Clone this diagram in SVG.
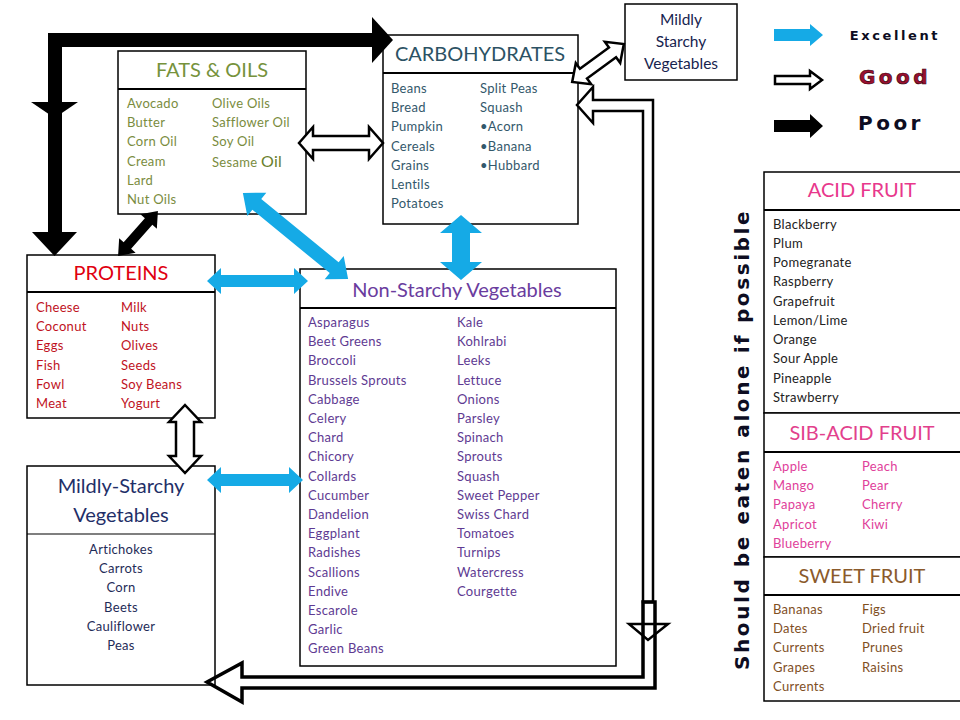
<svg xmlns="http://www.w3.org/2000/svg" width="960" height="720" viewBox="0 0 960 720">
<style>
text{font-family:Lato,"Open Sans","Liberation Sans",sans-serif}
.box{fill:#fff;stroke:#000;stroke-width:1.5}
.div{stroke:#000;stroke-width:2}
.divt{stroke:#000;stroke-width:1.2}
.t{font-size:20px;text-anchor:middle}
.i{font-size:13px;letter-spacing:0.3px}
.c{text-anchor:middle}
.cy{fill:#15aae6}
.ho{fill:#fff;stroke:#000;stroke-width:2.5;stroke-linejoin:miter}
.bk{fill:#000}
.lg{font-family:"DejaVu Sans","Liberation Sans",sans-serif;font-weight:bold}
</style>
<rect width="960" height="720" fill="#fff"/>

<g id="fats">
  <rect class="box" x="118" y="51" width="188" height="163"/>
  <line class="div" x1="118" y1="89" x2="306" y2="89"/>
  <text class="t" x="212" y="77" fill="#76923c">FATS &amp; OILS</text>
  <g class="i" fill="#7a8c3e">
    <text x="127" y="107.5">Avocado</text>
    <text x="127" y="126.5">Butter</text>
    <text x="127" y="145.5">Corn Oil</text>
    <text x="127" y="165.5">Cream</text>
    <text x="127" y="184.5">Lard</text>
    <text x="127" y="203.5">Nut Oils</text>
    <text x="212" y="107.5">Olive Oils</text>
    <text x="212" y="126.5">Safflower Oil</text>
    <text x="212" y="145.5">Soy Oil</text>
    <text x="212" y="166.5">Sesame <tspan font-size="16" fill="#6a7f2e">Oil</tspan></text>
  </g>
</g>

<g id="carbohydrates">
  <rect class="box" x="383" y="35" width="195" height="189"/>
  <line class="div" x1="383" y1="73" x2="578" y2="73"/>
  <text class="t" x="480" y="61" fill="#2c5264">CARBOHYDRATES</text>
  <g class="i" fill="#33586b">
    <text x="391" y="92.5">Beans</text>
    <text x="391" y="111.5">Bread</text>
    <text x="391" y="130.5">Pumpkin</text>
    <text x="391" y="150.5">Cereals</text>
    <text x="391" y="169.5">Grains</text>
    <text x="391" y="188.5">Lentils</text>
    <text x="391" y="207.5">Potatoes</text>
    <text x="480" y="92.5">Split Peas</text>
    <text x="480" y="111.5">Squash</text>
    <text x="480" y="130.5">•Acorn</text>
    <text x="480" y="150.5">•Banana</text>
    <text x="480" y="169.5">•Hubbard</text>
  </g>
</g>

<g id="mildly-starchy-top">
  <rect class="box" x="625" y="4" width="112" height="76"/>
  <g font-size="15.5" fill="#17244f" text-anchor="middle">
    <text x="681" y="24.5">Mildly</text>
    <text x="681" y="46.5">Starchy</text>
    <text x="681" y="68.5">Vegetables</text>
  </g>
</g>

<g id="proteins">
  <rect class="box" x="27" y="255" width="188" height="163"/>
  <line class="div" x1="27" y1="292" x2="215" y2="292"/>
  <text class="t" x="121" y="280" fill="#e00010">PROTEINS</text>
  <g class="i" fill="#c0121e">
    <text x="36" y="311.5">Cheese</text>
    <text x="36" y="330.5">Coconut</text>
    <text x="36" y="349.5">Eggs</text>
    <text x="36" y="369.5">Fish</text>
    <text x="36" y="388.5">Fowl</text>
    <text x="36" y="407.5">Meat</text>
    <text x="121" y="311.5">Milk</text>
    <text x="121" y="330.5">Nuts</text>
    <text x="121" y="349.5">Olives</text>
    <text x="121" y="369.5">Seeds</text>
    <text x="121" y="388.5">Soy Beans</text>
    <text x="121" y="407.5">Yogurt</text>
  </g>
</g>

<g id="non-starchy">
  <rect class="box" x="300" y="269" width="316" height="397"/>
  <line class="div" x1="300" y1="308" x2="616" y2="308"/>
  <text class="t" x="457" y="296.5" font-size="21" fill="#6a3c9e">Non-Starchy Vegetables</text>
  <g class="i" fill="#5e3a92">
    <text x="308" y="326.5">Asparagus</text>
    <text x="308" y="345.5">Beet Greens</text>
    <text x="308" y="364.5">Broccoli</text>
    <text x="308" y="384.5">Brussels Sprouts</text>
    <text x="308" y="403.5">Cabbage</text>
    <text x="308" y="422.5">Celery</text>
    <text x="308" y="441.5">Chard</text>
    <text x="308" y="460.5">Chicory</text>
    <text x="308" y="480.5">Collards</text>
    <text x="308" y="499.5">Cucumber</text>
    <text x="308" y="518.5">Dandelion</text>
    <text x="308" y="537.5">Eggplant</text>
    <text x="308" y="556.5">Radishes</text>
    <text x="308" y="576.5">Scallions</text>
    <text x="308" y="595.5">Endive</text>
    <text x="308" y="614.5">Escarole</text>
    <text x="308" y="633.5">Garlic</text>
    <text x="308" y="652.5">Green Beans</text>
    <text x="457" y="326.5">Kale</text>
    <text x="457" y="345.5">Kohlrabi</text>
    <text x="457" y="364.5">Leeks</text>
    <text x="457" y="384.5">Lettuce</text>
    <text x="457" y="403.5">Onions</text>
    <text x="457" y="422.5">Parsley</text>
    <text x="457" y="441.5">Spinach</text>
    <text x="457" y="460.5">Sprouts</text>
    <text x="457" y="480.5">Squash</text>
    <text x="457" y="499.5">Sweet Pepper</text>
    <text x="457" y="518.5">Swiss Chard</text>
    <text x="457" y="537.5">Tomatoes</text>
    <text x="457" y="556.5">Turnips</text>
    <text x="457" y="576.5">Watercress</text>
    <text x="457" y="595.5">Courgette</text>
  </g>
</g>

<g id="mildly-starchy">
  <rect class="box" x="27" y="466" width="188" height="219"/>
  <line class="divt" x1="27" y1="534" x2="215" y2="534"/>
  <text class="t" x="121" y="493" font-size="21" fill="#1f2f68">Mildly-Starchy</text>
  <text class="t" x="121" y="521.5" font-size="21" fill="#1f2f68">Vegetables</text>
  <g class="i c" fill="#1f2c58">
    <text x="121" y="553.5">Artichokes</text>
    <text x="121" y="572.5">Carrots</text>
    <text x="121" y="591.5">Corn</text>
    <text x="121" y="611.5">Beets</text>
    <text x="121" y="630.5">Cauliflower</text>
    <text x="121" y="649.5">Peas</text>
  </g>
</g>

<g id="acid-fruit">
  <rect class="box" x="764" y="172" width="210" height="241"/>
  <line class="div" x1="764" y1="210" x2="974" y2="210"/>
  <text class="t" x="862" y="197" fill="#e8388c">ACID FRUIT</text>
  <g class="i" fill="#222">
    <text x="773" y="228.5">Blackberry</text>
    <text x="773" y="247.5">Plum</text>
    <text x="773" y="266.5">Pomegranate</text>
    <text x="773" y="285.5">Raspberry</text>
    <text x="773" y="305.5">Grapefruit</text>
    <text x="773" y="324.5">Lemon/Lime</text>
    <text x="773" y="343.5">Orange</text>
    <text x="773" y="362.5">Sour Apple</text>
    <text x="773" y="382.5">Pineapple</text>
    <text x="773" y="401.5">Strawberry</text>
  </g>
</g>

<g id="sub-acid-fruit">
  <rect class="box" x="764" y="413" width="210" height="144"/>
  <line class="div" x1="764" y1="452" x2="974" y2="452"/>
  <text class="t" x="862" y="440" fill="#e2408c">SIB-ACID FRUIT</text>
  <g class="i" fill="#e0409a">
    <text x="773" y="470.5">Apple</text>
    <text x="773" y="489.5">Mango</text>
    <text x="773" y="508.5">Papaya</text>
    <text x="773" y="528.5">Apricot</text>
    <text x="773" y="547.5">Blueberry</text>
    <text x="862" y="470.5">Peach</text>
    <text x="862" y="489.5">Pear</text>
    <text x="862" y="508.5">Cherry</text>
    <text x="862" y="528.5">Kiwi</text>
  </g>
</g>

<g id="sweet-fruit">
  <rect class="box" x="764" y="557" width="210" height="144"/>
  <line class="div" x1="764" y1="595" x2="974" y2="595"/>
  <text class="t" x="862" y="583" fill="#8b5a2b">SWEET FRUIT</text>
  <g class="i" fill="#7f4f1f">
    <text x="773" y="613.5">Bananas</text>
    <text x="773" y="632.5">Dates</text>
    <text x="773" y="651.5">Currents</text>
    <text x="773" y="671.5">Grapes</text>
    <text x="773" y="690.5">Currents</text>
    <text x="862" y="613.5">Figs</text>
    <text x="862" y="632.5">Dried fruit</text>
    <text x="862" y="651.5">Prunes</text>
    <text x="862" y="671.5">Raisins</text>
  </g>
</g>

<g id="connectors">
  <!-- poor: black L arrow -->
  <polyline points="55,236 55,40 374,40" fill="none" stroke="#000" stroke-width="14" stroke-linejoin="miter"/>
  <polygon class="bk" points="32,232 77,232 54.5,256"/>
  <polygon class="bk" points="31,102 78,102 54.5,118"/>
  <polygon class="bk" points="372,17 372,63 393,40"/>
  <!-- poor: fats-proteins -->
  <polygon class="bk" transform="translate(138,233.5) rotate(131.6)" points="-30,0 -16,-11 -16,-5 16,-5 16,-11 30,0 16,11 16,5 -16,5 -16,11"/>
  <!-- excellent: fats - non-starchy -->
  <polygon class="cy" transform="translate(295.5,236) rotate(39.3)" points="-68,0 -50,-15 -50,-7 50,-7 50,-15 68,0 50,15 50,7 -50,7 -50,15"/>
  <!-- excellent: carbs - non-starchy -->
  <polygon class="cy" transform="translate(461,247.5) rotate(90)" points="-32.5,0 -14.5,-21 -14.5,-9 14.5,-9 14.5,-21 32.5,0 14.5,21 14.5,9 -14.5,9 -14.5,21"/>
  <!-- excellent: proteins - non-starchy -->
  <polygon class="cy" transform="translate(257.5,281)" points="-50.5,0 -36.5,-13 -36.5,-6 36.5,-6 36.5,-13 50.5,0 36.5,13 36.5,6 -36.5,6 -36.5,13"/>
  <!-- excellent: mildly-starchy - non-starchy -->
  <polygon class="cy" transform="translate(255,480)" points="-48,0 -34,-13 -34,-6 34,-6 34,-13 48,0 34,13 34,6 -34,6 -34,13"/>
  <!-- good: fats - carbs -->
  <polygon class="ho" transform="translate(341,143)" points="-42,0 -28,-16 -28,-7 28,-7 28,-16 42,0 28,16 28,7 -28,7 -28,16"/>
  <!-- good: proteins - mildly-starchy -->
  <polygon class="ho" transform="translate(185,439) rotate(90)" points="-34,0 -17,-16 -17,-9 17,-9 17,-16 34,0 17,16 17,9 -17,9 -17,16"/>
  <!-- good: carbs - mildly starchy (top) -->
  <polygon class="ho" transform="translate(598,63) rotate(-36.2)" points="-32,0 -18,-13 -18,-6 18,-6 18,-13 32,0 18,13 18,6 -18,6 -18,13"/>
  <!-- good: long arrow to carbs -->
  <polygon class="ho" points="643,602 643,111 593,111 593,123 577,105 593,87 593,100 653,100 653,602"/>
  <!-- small down triangle -->
  <polygon class="ho" points="629,624 668,624 648,640"/>
  <!-- good: long arrow to mildly-starchy -->
  <polygon fill="none" stroke="#000" stroke-width="3.5" points="643,602 643,677 242,677 242,663 207,682 242,702 242,688 655,688 655,602"/>
</g>

<g id="side-note">
  <text class="lg" transform="translate(749,440) rotate(-90)" text-anchor="middle" font-size="20" fill="#0d0d22" letter-spacing="1.5" textLength="460" lengthAdjust="spacing">Should be eaten alone if possible</text>
</g>

<g id="legend">
  <polygon class="cy" points="774,29 810,29 810,24 823,35 810,46 810,41 774,41"/>
  <polygon class="ho" points="775,76 810,76 810,71 822,80 810,89 810,84 775,84"/>
  <polygon class="bk" points="774,120 810,120 810,114 823,126 810,138 810,132 774,132"/>
  <text class="lg" x="895" y="40" text-anchor="middle" font-size="13" letter-spacing="2.6" fill="#0d0d22">Excellent</text>
  <text class="lg" x="895" y="84" text-anchor="middle" font-size="20" letter-spacing="3.5" fill="#9b1030" stroke="#2a0008" stroke-width="0.6">Good</text>
  <text class="lg" x="891" y="130" text-anchor="middle" font-size="20" letter-spacing="3.5" fill="#0d0d22">Poor</text>
</g>
</svg>
